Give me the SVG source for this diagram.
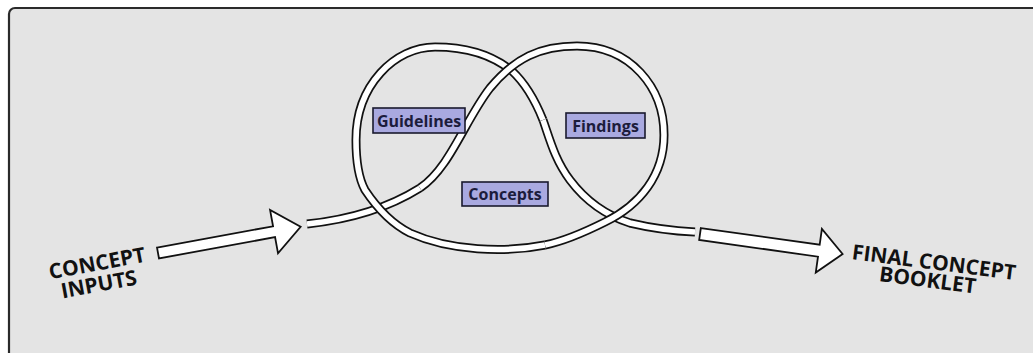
<svg xmlns="http://www.w3.org/2000/svg" width="1033" height="353" viewBox="0 0 1033 353">
<style>
.bk{fill:none;stroke:#111;stroke-width:9;stroke-linecap:butt}
.wh{fill:none;stroke:#fff;stroke-width:5.6;stroke-linecap:butt}
.arrow{fill:#fff;stroke:#111;stroke-width:1.8;stroke-linejoin:miter}
.box{fill:#a9a9e0;stroke:#1a1a2e;stroke-width:1.6}
.lbl{font-family:"Open Sans","Liberation Sans",sans-serif;font-weight:700;font-size:16px;fill:#1c1c3c;text-anchor:middle}
.big{font-family:"Open Sans","Liberation Sans",sans-serif;font-weight:700;font-size:21px;fill:#111;text-anchor:middle}
</style>
<rect x="0" y="0" width="1033" height="353" fill="#fff"/>
<rect x="9" y="8" width="1040" height="360" rx="6" fill="#e4e4e4" stroke="#2a2a2a" stroke-width="2.2"/>

<g id="connectors">
  <g id="pA"><path class="bk" d="M307,224 C345,220 385,210 420,188"/><path class="wh" d="M307,224 C345,220 385,210 420,188"/></g>
  <g id="pE"><path class="bk" d="M356,140 C356,85 395,47 435,47 C470,47 495,57 512,71 C525,83 535,100 543,120"/><path class="wh" d="M356,140 C356,85 395,47 435,47 C470,47 495,57 512,71 C525,83 535,100 543,120"/></g>
  <g id="pF"><path class="bk" d="M543,120 C550,140 555,160 570,180 C585,200 605,215 630,223 C655,229 675,231 695,232"/><path class="wh" d="M543,120 C550,140 555,160 570,180 C585,200 605,215 630,223 C655,229 675,231 695,232"/></g>
  <g id="pB"><path class="bk" d="M420,188 C450,168 465,120 490,88 C515,58 540,46 577,46"/><path class="wh" d="M420,188 C450,168 465,120 490,88 C515,58 540,46 577,46"/></g>
  <g id="pC"><path class="bk" d="M577,46 C630,46 664,87 664,135 C664,175 640,205 605,222 C585,232 565,241 545,245"/><path class="wh" d="M577,46 C630,46 664,87 664,135 C664,175 640,205 605,222 C585,232 565,241 545,245"/></g>
  <g id="pD"><path class="bk" d="M545,245 C505,253 450,251 410,233 C390,223 375,205 365,190 C358,177 356,160 356,140"/><path class="wh" d="M545,245 C505,253 450,251 410,233 C390,223 375,205 365,190 C358,177 356,160 356,140"/></g>
  <polygon id="arrow-in" class="arrow" transform="translate(158,253) rotate(-10.4)" points="0,-5.5 118,-5.5 118,-22 145,0 118,22 118,5.5 0,5.5"/>
  <polygon id="arrow-out" class="arrow" transform="translate(700,234) rotate(8)" points="0,-6 120,-6 120,-22 144,0 120,22 120,6 0,6"/>
</g>

<g id="guidelines"><rect class="box" x="373" y="108" width="92" height="25"/><text class="lbl" x="419" y="126.5">Guidelines</text></g>
<g id="findings"><rect class="box" x="566" y="113" width="79" height="25"/><text class="lbl" x="605.5" y="131.5">Findings</text></g>
<g id="concepts"><rect class="box" x="462" y="182" width="86" height="24"/><text class="lbl" x="505" y="200">Concepts</text></g>

<g id="concept-inputs" transform="translate(97,263) rotate(-10.5)">
  <text class="big" x="0" y="7.5">CONCEPT</text>
  <text class="big" x="-2" y="28.5">INPUTS</text>
</g>
<g id="final-concept-booklet" transform="translate(934,262) rotate(7.3)">
  <text class="big" x="0" y="7.5">FINAL CONCEPT</text>
  <text class="big" x="-4" y="26">BOOKLET</text>
</g>
</svg>
